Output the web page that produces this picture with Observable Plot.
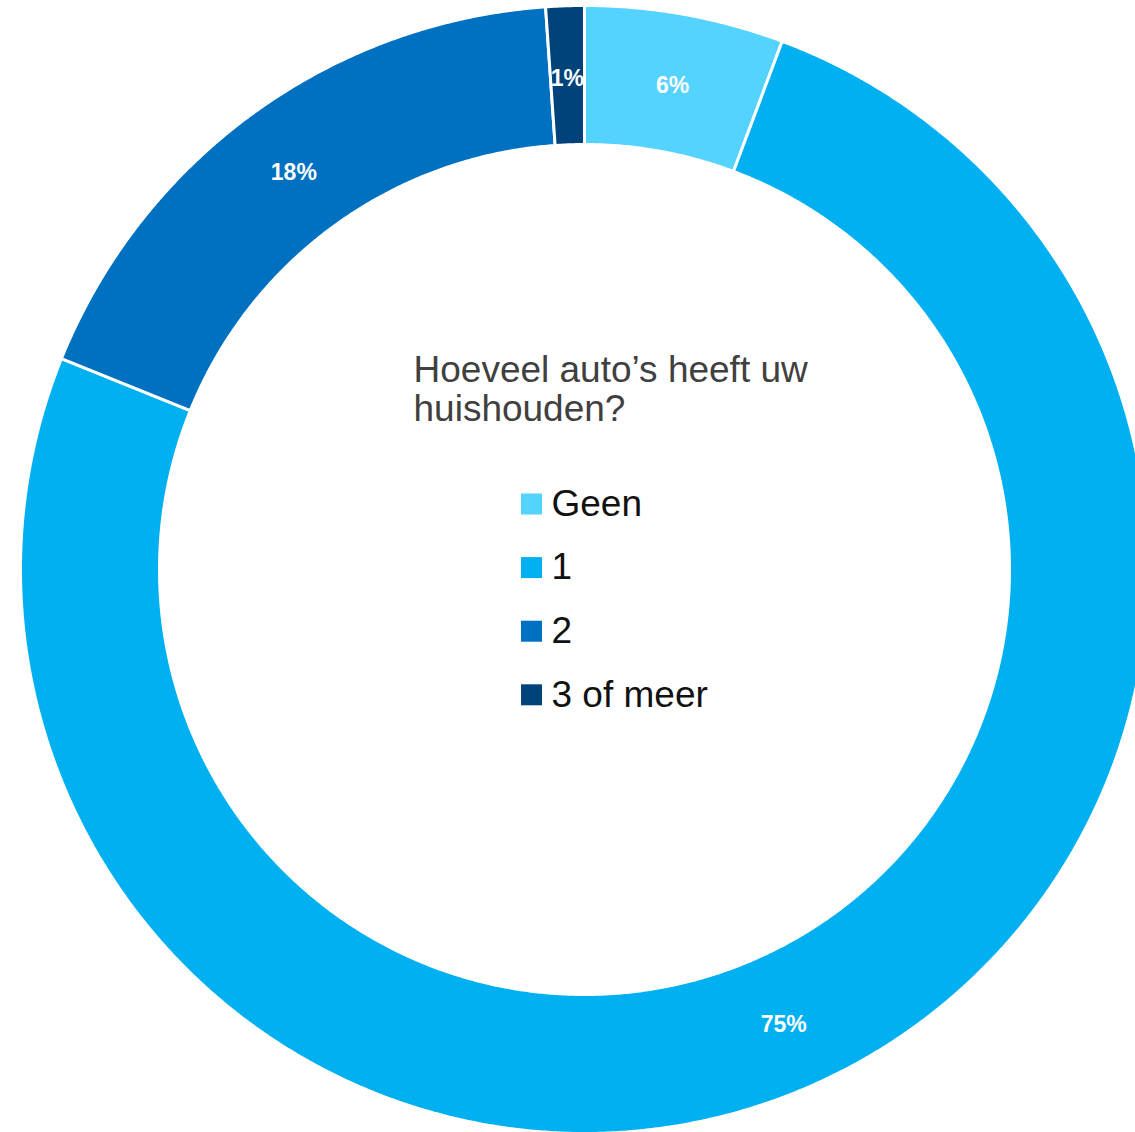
<!DOCTYPE html>
<html>
<head>
<meta charset="utf-8">
<script src="https://cdn.jsdelivr.net/npm/d3@7"></script>
<script src="https://cdn.jsdelivr.net/npm/@observablehq/plot@0.6"></script>
<style>
  html, body { margin: 0; padding: 0; background: #fff; }
  #chart svg { display: block; }
</style>
</head>
<body>
<div id="chart"></div>
<script>
// ---- data ----
const categories = ["Geen", "1", "2", "3 of meer"];
const values = [5.7, 75.4, 17.8, 1.1];
const colors = ["#55D3FF", "#00B0F0", "#0070C0", "#00427A"];
const title = "Hoeveel auto’s heeft uw\nhuishouden?";

// ---- layout ----
const W = 1135, H = 1132;
const cx = 584, cy = 569;
const R = 564, r0 = 425;

const total = d3.sum(values);
let acc = 0;
const slices = categories.map((c, i) => {
  const a0 = acc / total * 2 * Math.PI;
  acc += values[i];
  const a1 = acc / total * 2 * Math.PI;
  return {cat: c, value: values[i], a0, a1};
});

// polygon points for each ring segment
const pts = [];
for (const s of slices) {
  const n = Math.max(8, Math.ceil((s.a1 - s.a0) / 0.005));
  for (let k = 0; k <= n; k++) {
    const a = s.a0 + (s.a1 - s.a0) * k / n;
    pts.push({cat: s.cat, x: R * Math.sin(a), y: R * Math.cos(a)});
  }
  for (let k = n; k >= 0; k--) {
    const a = s.a0 + (s.a1 - s.a0) * k / n;
    pts.push({cat: s.cat, x: r0 * Math.sin(a), y: r0 * Math.cos(a)});
  }
}

const rm = (R + r0) / 2;
const labels = slices.map(s => {
  const a = (s.a0 + s.a1) / 2;
  return {cat: s.cat, text: Math.round(s.value) + "%", x: rm * Math.sin(a), y: rm * Math.cos(a)};
});

const legY0 = cy - 503.5, legStep = 63.6;
const legend = categories.map((c, i) => ({cat: c, y: legY0 - i * legStep}));

const plot = Plot.plot({
  width: W,
  height: H,
  margin: 0,
  style: {fontFamily: "'Liberation Sans', Arial, sans-serif", background: "#fff"},
  x: {domain: [-cx, W - cx], range: [0, W], axis: null},
  y: {domain: [-(H - cy), cy], range: [H, 0], axis: null},
  color: {domain: categories, range: colors},
  marks: [
    Plot.line(pts, {x: "x", y: "y", z: "cat", fill: "cat", stroke: "white", strokeWidth: 3, curve: "linear-closed"}),
    Plot.text(labels, {x: "x", y: "y", dy: 3, text: "text", fill: "white", fontSize: 23, fontWeight: "bold", lineAnchor: "middle"}),
    Plot.text([title], {x: () => 413 - cx, y: () => cy - 420, text: d => d, textAnchor: "start", lineAnchor: "bottom", lineHeight: 1.03, fontSize: 37, fill: "#404040"}),
    Plot.dot(legend, {x: () => 531 - cx, y: "y", symbol: "square", r: 11.85, fill: "cat", stroke: null}),
    Plot.text(legend, {x: () => 551 - cx, y: "y", text: "cat", textAnchor: "start", lineAnchor: "middle", fontSize: 37, fill: "#111"})
  ]
});
document.getElementById("chart").appendChild(plot);
</script>
</body>
</html>
